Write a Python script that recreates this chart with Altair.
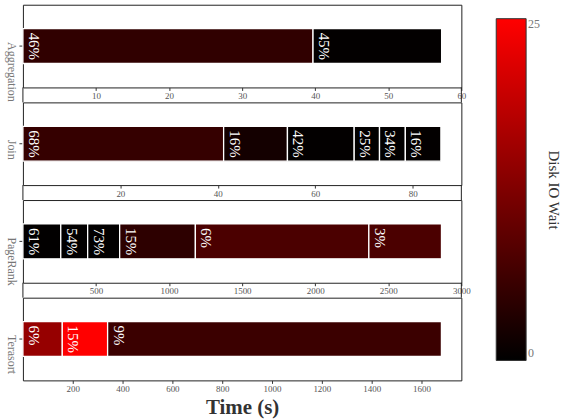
import altair as alt
import pandas as pd

SERIF = "Liberation Serif"

# Workload phases: end time (s) of each phase, its disk IO wait, and its label
agg_end = [39.7, 57.3]
agg_wait = [4.7, 0.3]
agg_label = ["46%", "45%"]

join_end = [41.2, 54.3, 68.0, 73.2, 78.5, 85.8]
join_wait = [5.2, 2.0, 0.3, 0.2, 0.2, 0.3]
join_label = ["68%", "16%", "42%", "25%", "34%", "16%"]

pr_end = [259, 443, 662, 1180, 2367, 2864]
pr_wait = [0.2, 0.2, 0.2, 4.4, 7.4, 7.4]
pr_label = ["61%", "54%", "73%", "15%", "6%", "3%"]

ts_end = [158, 340, 1680]
ts_wait = [14.7, 25.0, 5.8]
ts_label = ["6%", "15%", "9%"]

workloads = ["Aggregation", "Join", "PageRank", "Terasort"]
x_max = [60, 90, 3000, 1760]
x_ticks = [
    [10, 20, 30, 40, 50, 60],
    [20, 40, 60, 80],
    [500, 1000, 1500, 2000, 2500, 3000],
    [200, 400, 600, 800, 1000, 1200, 1400, 1600],
]
wait_domain = [0, 25]

W, H = 440, 83
GAP = 15
BAR = 35


def panel(name, ends, waits, labels, xmax, ticks, last):
    starts = [0] + ends[:-1]
    df = pd.DataFrame({
        "workload": name,
        "start": starts,
        "end": ends,
        "wait": waits,
        "label": labels,
    })

    axis_kw = dict(values=ticks, ticks=True, tickSize=3, tickColor="#333",
                   domain=False, grid=False, format="d", labelFont=SERIF,
                   labelFontSize=9, labelColor="#555", labelPadding=1,
                   labelFlush=False)
    if last:
        axis_kw.update(title="Time (s)", titleFont=SERIF, titleFontSize=21,
                       titleFontWeight="bold", titleColor="#333", titlePadding=3)
    else:
        axis_kw.update(title=None)
    xscale = alt.Scale(domain=[0, xmax], nice=False, zero=True)

    # workload name reads downward, starting just above the tick
    y_enc = alt.Y("workload:N", title=None,
                  axis=alt.Axis(labelAngle=90, labelAlign="left",
                                labelBaseline="top", labelOffset=-4,
                                labelFont=SERIF, labelFontSize=12,
                                labelColor="#777", tickSize=4,
                                tickColor="#333", domain=False,
                                labelPadding=2))

    bars = alt.Chart(df).mark_bar(size=BAR, stroke="white", strokeWidth=1.3).encode(
        x=alt.X("start:Q", scale=xscale, axis=alt.Axis(**axis_kw)),
        x2="end:Q",
        y=y_enc,
        color=alt.Color(
            "wait:Q",
            scale=alt.Scale(domain=wait_domain, range=["#000000", "#ff0000"],
                            interpolate="rgb"),
            legend=alt.Legend(
                title="Disk IO Wait", orient="none", legendX=475, legendY=14,
                direction="vertical", gradientLength=343, gradientThickness=30,
                gradientStrokeColor="#333", gradientStrokeWidth=1,
                values=[0, 25], labelFont=SERIF, labelFontSize=12,
                labelColor="#777", labelOverlap=False,
                titleOrient="right", titleFont=SERIF, titleFontWeight="normal",
                titleFontSize=15, titleColor="#333", titleAnchor="middle",
                titlePadding=6,
            ),
        ),
    )

    text = alt.Chart(df).mark_text(
        angle=90, align="left", baseline="middle", dx=-13.5, dy=-11,
        font=SERIF, fontSize=15, color="white",
    ).encode(x="start:Q", y="workload:N", text="label:N")

    layers = [bars, text]
    if not last:
        # side spines carried down through the gap to the next panel
        spine = alt.Chart(df.head(1)).mark_rule(color="#222", strokeWidth=1)
        layers.append(spine.encode(x=alt.value(0), y=alt.value(H), y2=alt.value(H + GAP)))
        layers.append(spine.encode(x=alt.value(W), y=alt.value(H), y2=alt.value(H + GAP)))

    return alt.layer(*layers).properties(width=W, height=H)


panels = [
    panel(workloads[0], agg_end, agg_wait, agg_label, x_max[0], x_ticks[0], False),
    panel(workloads[1], join_end, join_wait, join_label, x_max[1], x_ticks[1], False),
    panel(workloads[2], pr_end, pr_wait, pr_label, x_max[2], x_ticks[2], False),
    panel(workloads[3], ts_end, ts_wait, ts_label, x_max[3], x_ticks[3], True),
]

chart = (
    alt.vconcat(*panels, spacing=GAP, bounds="flush")
    .resolve_scale(x="independent", y="independent", color="shared")
    .configure_view(stroke="#222", strokeWidth=1)
    .properties(background="white",
                padding={"left": 5, "top": 3, "right": 0, "bottom": 0})
)

chart.save("out.html", embed_options={"renderer": "svg", "actions": False})
